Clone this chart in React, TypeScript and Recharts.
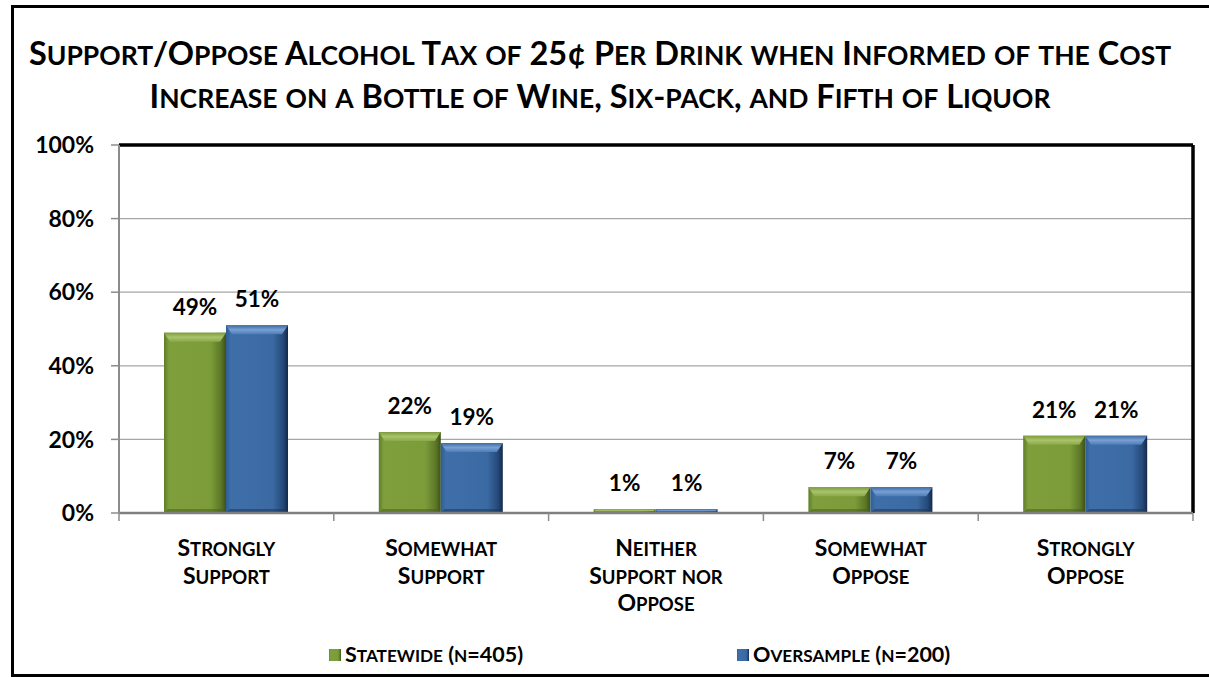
import React from 'react';
import { BarChart, Bar, XAxis, YAxis, CartesianGrid, LabelList, ReferenceLine } from 'recharts';

const CATEGORIES = [
  'Strongly Support',
  'Somewhat Support',
  'Neither Support nor Oppose',
  'Somewhat Oppose',
  'Strongly Oppose',
];
const CATEGORY_LINES = [
  ['Strongly', 'Support'],
  ['Somewhat', 'Support'],
  ['Neither', 'Support nor', 'Oppose'],
  ['Somewhat', 'Oppose'],
  ['Strongly', 'Oppose'],
];
const STATEWIDE = [49, 22, 1, 7, 21];
const OVERSAMPLE = [51, 19, 1, 7, 21];
const Y_TICKS = [0, 20, 40, 60, 80, 100];
const SERIES_NAMES = ['Statewide (n=405)', 'Oversample (n=200)'];
const TITLE_LINES = [
  'Support/Oppose Alcohol Tax of 25¢ Per Drink when Informed of the Cost',
  'Increase on a Bottle of Wine, Six-pack, and Fifth of Liquor',
];

const data = CATEGORIES.map((c, i) => ({
  category: c,
  statewide: STATEWIDE[i],
  oversample: OVERSAMPLE[i],
}));

const FONT = 'Lato, "Open Sans", sans-serif';

function scSegments(s: string) {
  const segs: { t: string; small: boolean }[] = [];
  for (const ch of s) {
    const small = ch !== ch.toUpperCase();
    const c = small ? ch.toUpperCase() : ch;
    const last = segs[segs.length - 1];
    if (last && last.small === small) last.t += c;
    else segs.push({ t: c, small });
  }
  return segs;
}

function SmallCapsHtml({ text, big, small }: { text: string; big: number; small: number }) {
  return (
    <>
      {scSegments(text).map((s, i) => (
        <span key={i} style={{ fontSize: s.small ? small : big }}>
          {s.t}
        </span>
      ))}
    </>
  );
}

const PALETTES: any = {
  green: { top: 'url(#green-top)', bottom: '#4a5f1d' },
  blue: { top: 'url(#blue-top)', bottom: '#1d3658' },
};

function BevelBar(props: any) {
  const { x, y, width, height, gid } = props;
  if (!height || height <= 0) return null;
  const pal = PALETTES[gid];
  const bev = Math.min(9, height / 2);
  const inset = Math.min(6, bev);
  const bb = Math.min(4, height / 3);
  return (
    <g>
      <rect x={x} y={y} width={width} height={height} fill={`url(#${gid}-h)`} />
      <path
        d={`M${x},${y} L${x + width},${y} L${x + width - inset},${y + bev} L${x + inset},${y + bev} Z`}
        fill={pal.top}
      />
      <path
        d={`M${x},${y + height} L${x + width},${y + height} L${x + width - 4},${y + height - bb} L${x + 4},${y + height - bb} Z`}
        fill={pal.bottom}
        opacity={0.55}
      />
    </g>
  );
}

function XTick(props: any) {
  const { x, y, payload } = props;
  const idx = CATEGORIES.indexOf(payload.value);
  const half = payload.offset ?? 107.4;
  const lines = CATEGORY_LINES[idx] || [payload.value];
  return (
    <g>
      <line x1={x - half} x2={x - half} y1={y} y2={y + 8} stroke="#8c8c8c" strokeWidth={1.5} />
      {idx === CATEGORIES.length - 1 && (
        <line x1={x + half} x2={x + half} y1={y} y2={y + 8} stroke="#8c8c8c" strokeWidth={1.5} />
      )}
      {lines.map((l, i) => (
        <text
          key={i}
          x={x}
          y={y + 43 + i * 27.5}
          textAnchor="middle"
          fill="#000"
          style={{ fontFamily: FONT, fontWeight: 700 }}
        >
          {scSegments(l).map((s, j) => (
            <tspan key={j} fontSize={s.small ? 18.5 : 23}>
              {s.t}
            </tspan>
          ))}
        </text>
      ))}
    </g>
  );
}

function LegendSwatch({ gid }: { gid: string }) {
  return (
    <svg width={12} height={12} style={{ marginRight: 4, display: 'block' }}>
      <rect x={0} y={0} width={12} height={12} fill={`url(#${gid}-h)`} />
    </svg>
  );
}

export default function App() {
  return (
    <div
      style={{
        position: 'absolute',
        left: 0,
        top: 0,
        width: 1209,
        height: 677,
        background: '#fff',
        overflow: 'hidden',
        fontFamily: FONT,
      }}
    >
      <div
        style={{
          position: 'absolute',
          left: 11,
          top: 5,
          width: 1209 - 11,
          height: 677 - 5,
          borderLeft: '3px solid #000',
          borderTop: '3px solid #000',
          borderBottom: '3px solid #000',
          boxSizing: 'border-box',
        }}
      />
      {TITLE_LINES.map((t, i) => (
        <div
          key={i}
          style={{
            position: 'absolute',
            left: 0,
            width: 1200,
            top: 31 + i * 43,
            height: 43,
            lineHeight: '43px',
            textAlign: 'center',
            fontWeight: 700,
            color: '#000',
            whiteSpace: 'nowrap',
          }}
        >
          <SmallCapsHtml text={t} big={32.5} small={26.5} />
        </div>
      ))}
      <div style={{ position: 'absolute', left: 0, top: 0 }}>
        <BarChart
          width={1209}
          height={677}
          data={data}
          margin={{ top: 145, right: 16, bottom: 64, left: 59 }}
          barCategoryGap={45}
          barGap={0}
        >
          <defs>
            <linearGradient id="green-h" x1="0" x2="1" y1="0" y2="0">
              <stop offset="0" stopColor="#5f7d28" />
              <stop offset="0.08" stopColor="#7f9f3c" />
              <stop offset="0.75" stopColor="#7c9c3a" />
              <stop offset="0.92" stopColor="#5c7726" />
              <stop offset="1" stopColor="#3d5119" />
            </linearGradient>
            <linearGradient id="blue-h" x1="0" x2="1" y1="0" y2="0">
              <stop offset="0" stopColor="#2f5d95" />
              <stop offset="0.08" stopColor="#3f6fa9" />
              <stop offset="0.75" stopColor="#3b6aa3" />
              <stop offset="0.92" stopColor="#254a7a" />
              <stop offset="1" stopColor="#15294a" />
            </linearGradient>
            <linearGradient id="green-top" x1="0" x2="0" y1="0" y2="1">
              <stop offset="0" stopColor="#7d9b3b" />
              <stop offset="0.5" stopColor="#a9c46c" />
              <stop offset="1" stopColor="#8aa947" />
            </linearGradient>
            <linearGradient id="blue-top" x1="0" x2="0" y1="0" y2="1">
              <stop offset="0" stopColor="#3e6ca4" />
              <stop offset="0.5" stopColor="#78a0d3" />
              <stop offset="1" stopColor="#4d7cb8" />
            </linearGradient>
          </defs>
          <CartesianGrid
            xAxisId="bottom"
            yAxisId="left"
            vertical={false}
            stroke="#a6a6a6"
            strokeWidth={1.2}
          />
          <XAxis
            xAxisId="bottom"
            dataKey="category"
            interval={0}
            height={100}
            tickLine={false}
            tickSize={0}
            tickMargin={0}
            axisLine={{ stroke: '#7f7f7f', strokeWidth: 2.5 }}
            tick={<XTick />}
          />
          <YAxis
            yAxisId="left"
            domain={[0, 100]}
            ticks={Y_TICKS}
            interval={0}
            width={60}
            tickSize={8}
            tickMargin={17}
            tickFormatter={(v: number) => `${v}%`}
            axisLine={{ stroke: '#8c8c8c', strokeWidth: 2 }}
            tickLine={{ stroke: '#8c8c8c', strokeWidth: 1.5 }}
            tick={{ fill: '#000', fontSize: 23, fontWeight: 700, fontFamily: FONT }}
          />
          <ReferenceLine
            xAxisId="bottom"
            yAxisId="left"
            y={100}
            stroke="#000"
            strokeWidth={3.5}
          />
          <ReferenceLine
            xAxisId="bottom"
            yAxisId="left"
            x={CATEGORIES[CATEGORIES.length - 1]}
            position="end"
            stroke="#000"
            strokeWidth={3.5}
          />
          <Bar
            xAxisId="bottom"
            yAxisId="left"
            dataKey="statewide"
            name={SERIES_NAMES[0]}
            fill="#7f9f3c"
            isAnimationActive={false}
            shape={(p: any) => <BevelBar {...p} gid="green" />}
          >
            <LabelList
              dataKey="statewide"
              position="top"
              offset={18}
              formatter={(v: any) => `${v}%`}
              fill="#000"
              fontSize={22.5}
              fontWeight={700}
              fontFamily={FONT}
            />
          </Bar>
          <Bar
            xAxisId="bottom"
            yAxisId="left"
            dataKey="oversample"
            name={SERIES_NAMES[1]}
            fill="#3f6fa9"
            isAnimationActive={false}
            shape={(p: any) => <BevelBar {...p} gid="blue" />}
          >
            <LabelList
              dataKey="oversample"
              position="top"
              offset={18}
              formatter={(v: any) => `${v}%`}
              fill="#000"
              fontSize={22.5}
              fontWeight={700}
              fontFamily={FONT}
            />
          </Bar>
        </BarChart>
      </div>
      <div
        style={{
          position: 'absolute',
          left: 329,
          top: 644,
          height: 22,
          display: 'flex',
          alignItems: 'center',
          fontWeight: 700,
          color: '#000',
        }}
      >
        {SERIES_NAMES.map((n, i) => (
          <div key={i} style={{ width: 408, display: 'flex', alignItems: 'center' }}>
            <LegendSwatch gid={i === 0 ? 'green' : 'blue'} />
            <span style={{ lineHeight: '22px', whiteSpace: 'nowrap' }}>
              <SmallCapsHtml text={n} big={21.5} small={17.2} />
            </span>
          </div>
        ))}
      </div>
    </div>
  );
}
